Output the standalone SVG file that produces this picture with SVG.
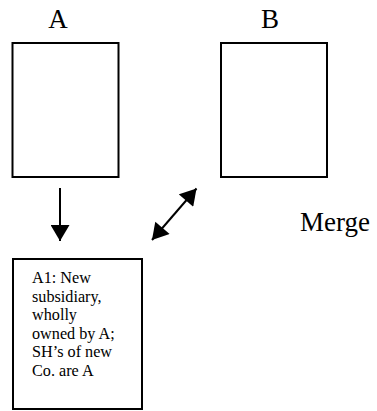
<svg xmlns="http://www.w3.org/2000/svg" width="377" height="411" viewBox="0 0 377 411">
<style>
.box{fill:#fff;stroke:#000;stroke-width:2}
.lbl{font-family:"Liberation Serif","Times New Roman",serif;fill:#000}
.big{font-size:27px}
.small{font-size:16.2px}
.conn{stroke:#000;stroke-width:2;fill:none}
</style>
<defs>
<marker id="ah" markerUnits="userSpaceOnUse" markerWidth="18" markerHeight="19" viewBox="0 0 16 19" refX="16" refY="9.5" orient="auto-start-reverse">
<path d="M0,0 L16,9.5 L0,19 Z" fill="#000"/>
</marker>
</defs>
<g id="nodeA">
<text class="lbl big" x="58" y="28" text-anchor="middle">A</text>
<rect class="box" x="12.5" y="43" width="106" height="134"/>
</g>
<g id="nodeB">
<text class="lbl big" x="270" y="28" text-anchor="middle">B</text>
<rect class="box" x="221" y="43" width="106" height="134"/>
</g>
<g id="nodeA1">
<rect class="box" x="13" y="259" width="129" height="150"/>
<text class="lbl small" x="32" y="283">A1: New</text>
<text class="lbl small" x="32" y="301.5">subsidiary,</text>
<text class="lbl small" x="32" y="320">wholly</text>
<text class="lbl small" x="32" y="338.5">owned by A;</text>
<text class="lbl small" x="32" y="357">SH’s of new</text>
<text class="lbl small" x="32" y="375.5">Co. are A</text>
</g>
<g id="merge">
<text class="lbl big" x="300" y="231">Merge</text>
</g>
<g id="connectors">
<line class="conn" x1="60" y1="188" x2="60" y2="241" marker-end="url(#ah)"/>
<line class="conn" x1="152" y1="240" x2="196.5" y2="188.5" marker-start="url(#ah)" marker-end="url(#ah)"/>
</g>
</svg>
